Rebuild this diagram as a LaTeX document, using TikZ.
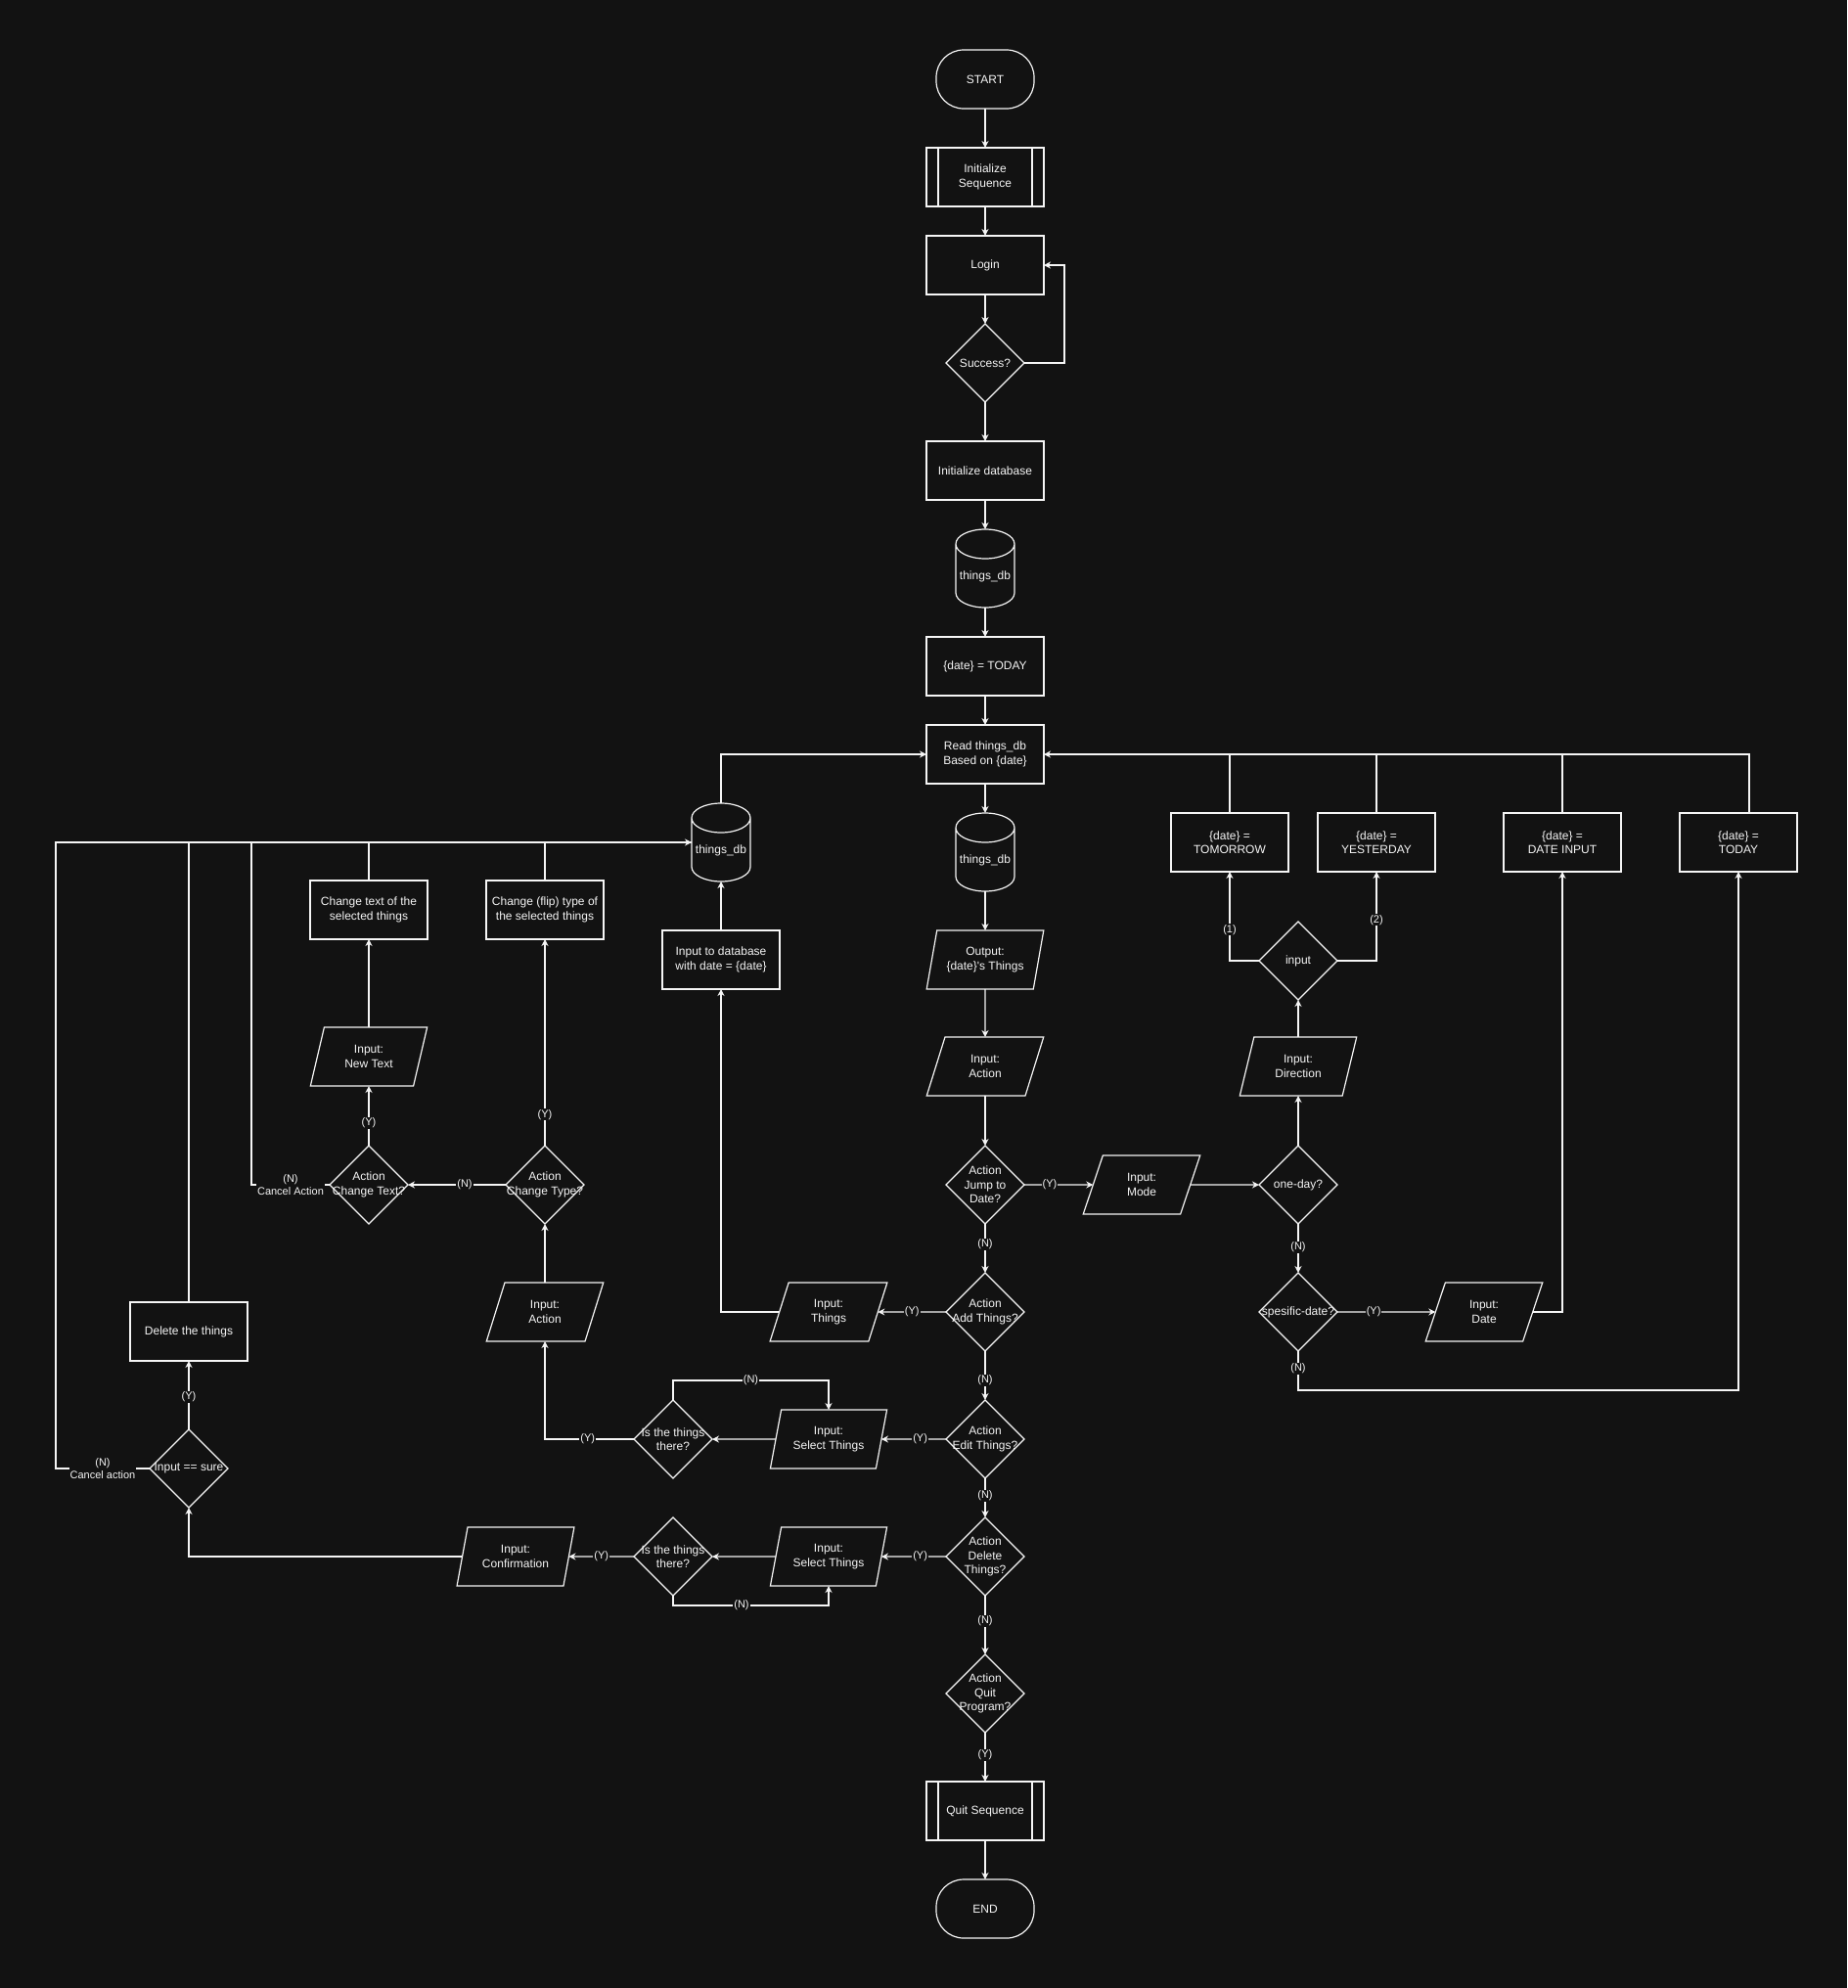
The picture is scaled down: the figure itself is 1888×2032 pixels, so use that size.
\documentclass[tikz,border=0pt]{standalone}
\usepackage{fontspec}
\setmainfont{Liberation Sans}
\usetikzlibrary{arrows.meta,shapes.geometric}
\definecolor{bgc}{RGB}{18,18,18}
\definecolor{fg}{RGB}{245,245,245}

\begin{document}
\begin{tikzpicture}[x=1pt,y=-1pt,color=fg,line width=1.2pt,
  every node/.style={font=\fontsize{12}{14.5}\selectfont,align=center,outer sep=0pt},
  b/.style={draw,minimum width=120pt,minimum height=60pt,inner sep=2pt},
  term/.style={draw,rounded corners=28pt,minimum width=100pt,minimum height=60pt},
  sub/.style={b,path picture={\draw[fg,line width=1.2pt]
      ([xshift=12pt]path picture bounding box.north west) -- ([xshift=12pt]path picture bounding box.south west)
      ([xshift=-12pt]path picture bounding box.north east) -- ([xshift=-12pt]path picture bounding box.south east);}},
  io/.style={draw,trapezium,trapezium left angle=71.57,trapezium right angle=108.43,
    trapezium stretches=true,minimum width=120pt,minimum height=60pt,inner sep=0pt},
  db/.style={minimum width=60pt,minimum height=80pt,inner sep=0pt,
    label={[yshift=-8pt]center:#1},
    append after command={\pgfextra{\draw
      ([yshift=-15pt]\tikzlastnode.north west) arc[start angle=180,end angle=0,x radius=30pt,y radius=15pt]
      -- ([yshift=15pt]\tikzlastnode.south east) arc[start angle=0,end angle=-180,x radius=30pt,y radius=15pt]
      -- cycle
      ([yshift=-15pt]\tikzlastnode.north west) arc[start angle=180,end angle=360,x radius=30pt,y radius=15pt];}}},
  dec/.style={draw,diamond,minimum width=80pt,minimum height=80pt,inner sep=0pt,
    label={[align=center]center:#1}},
  lbl/.style={fill=bgc,inner sep=1pt,font=\fontsize{11}{13}\selectfont},
  a/.style={-{Stealth[length=7pt,width=7pt]}}]
  \fill[bgc] (0,0) rectangle (1888,2032);
  % main column
  \node[term] (st) at (1007,81) {START};
  \node[sub] (is) at (1007,181) {Initialize\\Sequence};
  \node[b] (lg) at (1007,271) {Login};
  \node[dec=Success?] (su) at (1007,371) {};
  \node[b] (idb) at (1007,481) {Initialize database};
  \node[db=things\_db] (db1) at (1007,581) {};
  \node[b] (td) at (1007,681) {\{date\} = TODAY};
  \node[b] (rd) at (1007,771) {Read things\_db\\Based on \{date\}};
  \node[db=things\_db] (db2) at (1007,871) {};
  \node[io] (out) at (1007,981) {Output:\\\{date\}\textquotesingle s Things};
  \node[io] (ia) at (1007,1090) {Input:\\Action};
  \node[dec={Action\\Jump to\\Date?}] (jp) at (1007,1211) {};
  \node[dec={Action\\Add Things?}] (ad) at (1007,1341) {};
  \node[dec={Action\\Edit Things?}] (ed) at (1007,1471) {};
  \node[dec={Action\\Delete\\Things?}] (dd) at (1007,1591) {};
  \node[dec={Action\\Quit\\Program?}] (qt) at (1007,1731) {};
  \node[sub] (qs) at (1007,1851) {Quit Sequence};
  \node[term] (en) at (1007,1951) {END};
  % jump to date
  \node[io] (md) at (1167,1211) {Input:\\Mode};
  \node[dec=one-day?] (od) at (1327,1211) {};
  \node[io] (dir) at (1327,1090) {Input:\\Direction};
  \node[dec=input] (inp) at (1327,982) {};
  \node[b] (tom) at (1257,861) {\{date\} =\\TOMORROW};
  \node[b] (yes) at (1407,861) {\{date\} =\\YESTERDAY};
  \node[b] (din) at (1597,861) {\{date\} =\\DATE INPUT};
  \node[b] (tdy) at (1777,861) {\{date\} =\\TODAY};
  \node[dec=spesific-date?] (sd) at (1327,1341) {};
  \node[io] (dt) at (1517,1341) {Input:\\Date};
  % add / edit / delete
  \node[db=things\_db] (dbl) at (737,861) {};
  \node[b] (itd) at (737,981) {Input to database\\with date = \{date\}};
  \node[io] (th) at (847,1341) {Input:\\Things};
  \node[io] (se) at (847,1471) {Input:\\Select Things};
  \node[dec={Is the things\\there?}] (ie) at (688,1471) {};
  \node[io] (ial) at (557,1341) {Input:\\Action};
  \node[dec={Action\\Change Type?}] (ct) at (557,1211) {};
  \node[b] (cf) at (557,930) {Change (flip) type of\\the selected things};
  \node[dec={Action\\Change Text?}] (cx) at (377,1211) {};
  \node[io] (nt) at (377,1080) {Input:\\New Text};
  \node[b] (ctx) at (377,930) {Change text of the\\selected things};
  \node[io] (s2) at (847,1591) {Input:\\Select Things};
  \node[dec={Is the things\\there?}] (i2) at (688,1591) {};
  \node[io] (cfm) at (527,1591) {Input:\\Confirmation};
  \node[dec={Input == sure}] (sr) at (193,1501) {};
  \node[b] (dl) at (193,1361) {Delete the things};

  \draw[a] (st)--(is); \draw[a] (is)--(lg); \draw[a] (lg)--(su);
  \draw[a] (su.east) -- ++(41,0) |- (lg.east);
  \draw[a] (su)--(idb); \draw[a] (idb)--(db1); \draw[a] (db1)--(td);
  \draw[a] (td)--(rd); \draw[a] (rd)--(db2); \draw[a] (db2)--(out);
  \draw[a] (out)--(ia); \draw[a] (ia)--(jp);
  \draw[a] (jp) -- node[lbl,pos=0.42]{(N)} (ad);
  \draw[a] (ad) -- node[lbl,pos=0.6]{(N)} (ed);
  \draw[a] (ed) -- node[lbl,pos=0.45]{(N)} (dd);
  \draw[a] (dd) -- node[lbl,pos=0.43]{(N)} (qt);
  \draw[a] (qt) -- node[lbl,pos=0.46]{(Y)} (qs);
  \draw[a] (qs)--(en);

  \draw[a] (jp) -- node[lbl,pos=0.37]{(Y)} (md);
  \draw[a] (md)--(od); \draw[a] (od)--(dir); \draw[a] (dir)--(inp);
  \draw[a] (inp.west) -| node[lbl,pos=0.675]{(1)} (tom);
  \draw[a] (inp.east) -| node[lbl,pos=0.73]{(2)} (yes);
  \draw[a] (od) -- node[lbl,pos=0.48]{(N)} (sd);
  \draw[a] (sd) -- node[lbl,pos=0.37]{(Y)} (dt);
  \draw[a] (dt) -| (din);
  \draw[a] (sd.south) -- node[lbl,pos=0.45]{(N)} ++(0,40) -| (tdy);
  \draw[a] ([xshift=11pt]tdy.north) |- (rd.east);
  \draw (tom)--(tom |- rd); \draw (yes)--(yes |- rd); \draw (din)--(din |- rd);

  \draw[a] (ad) -- node[lbl]{(Y)} (th);
  \draw[a] (th) -| (itd); \draw[a] (itd)--(dbl);
  \draw[a] (dbl) |- (rd);
  \draw[a] (ed) -- node[lbl,pos=0.4]{(Y)} (se);
  \draw[a] (se)--(ie);
  \draw[a] (ie.north) -- ++(0,-20) -| node[lbl,pos=0.25]{(N)} (se.north);
  \draw[a] (ie.west) -| node[lbl,pos=0.26]{(Y)} (ial.south);
  \draw[a] (ial)--(ct);
  \draw[a] (ct) -- node[lbl,pos=0.15]{(Y)} (cf);
  \draw[a] (ct) -- node[lbl,pos=0.42]{(N)} (cx);
  \draw[a] (cx) -- node[lbl,pos=0.38]{(Y)} (nt);
  \draw[a] (nt)--(ctx);
  \draw[a] (dd) -- node[lbl,pos=0.4]{(Y)} (s2);
  \draw[a] (s2)--(i2);
  \draw[a] (i2.south) -- ++(0,10) -| node[lbl,pos=0.22]{(N)} (s2.south);
  \draw[a] (i2) -- node[lbl]{(Y)} (cfm);
  \draw[a] (cfm) -| (sr);
  \draw[a] (sr) -- node[lbl,pos=0.47]{(Y)} (dl);
  % back to things_db
  \draw[a] (sr.west) -- node[lbl]{(N)\\Cancel action} ++(-96,0) |- (dbl);
  \draw (cx.west) -- node[lbl]{(N)\\Cancel Action} ++(-80,0) |- (dbl);
  \draw (dl)--(dl |- dbl); \draw (ctx)--(ctx |- dbl); \draw (cf)--(cf |- dbl);
\end{tikzpicture}
\end{document}
